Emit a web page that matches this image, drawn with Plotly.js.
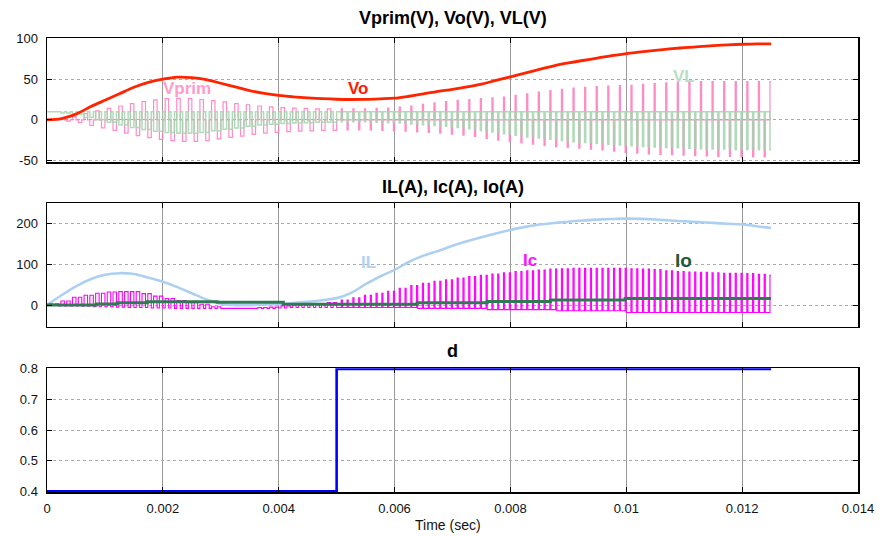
<!DOCTYPE html>
<html><head><meta charset="utf-8">
<script src="https://cdn.plot.ly/plotly-3.0.1.min.js"></script>
<style>html,body{margin:0;padding:0;background:#fff}#chart{width:888px;height:537px}</style>
</head><body><div id="chart"></div>
<script>
// ---- time grid (ms) for smooth signals ----
const timeMs = [0,0.25,0.5,0.75,1,1.25,1.5,1.75,2,2.25,2.5,2.75,3,3.25,3.5,3.75,4,4.25,4.5,4.75,5,5.25,5.5,5.75,6,6.25,6.5,6.75,7,7.25,7.5,7.75,8,8.25,8.5,8.75,9,9.25,9.5,9.75,10,10.25,10.5,10.75,11,11.25,11.5,11.75,12,12.25,12.5];
const voValues = [0,1.5,7,16,24,32,40,46,50,52.5,52,49.5,45,40.5,36,32.5,30,28.3,27,26,25.3,25,25.2,25.8,26.6,29,32,35,37.5,40.5,44,48.5,52.9,57.5,62,66.5,70,73,76,79,81.6,83.5,85.5,87.3,88.8,90,91.2,92.2,93,93.5,93.5];
const ilValues = [0,24,46,63,74,78,76,67,57,44,29,14,3,0,0,1,2,5,8,12,17,30,51,70,86,106,121,132,145,156,166,175,184,191,197,201,204,207,209,210.5,211.5,211,209.5,207,205,203,201,199,197,193,188.5];

// ---- Io (stepwise) ----
const ioStepTimesMs = [0,0.85,1.21,1.73,2.94,4.08,6.39,7.6,8.69,9.98,12.5];
const ioStepValues  = [0,2.5,5.5,8,7,2,6,8.5,12.5,16,16];

// ---- duty cycle d ----
const dutyTimesMs = [0,5,12.5];
const dutyValues  = [0.4,0.8,0.8];

// ---- switching ----
const switchPeriodMs = 0.1;
const endTimeMs = 12.5;

// envelopes, one value per 0.2 ms (two switching cycles)
const vprimPos = [0.5,1.5,4,7.5,11,14,17,20,22.5,24.5,
  26,26.5,26,25,23.5,22,20,18.5,17,16,
  15,14.5,14,13.5,13.5,13.5,13.5,13.5,14,14.5,
  15.5,17,19,21,22.5,24,25,26,27,28,
  30,32,34,36,37.5,39,40,41,41.5,42,
  42.5,43.5,44.5,45.5,46.5,46.5,47,47,47,47,
  47,47,47];
const vprimNeg = [-0.5,-1.5,-3.5,-7,-10,-13,-16.5,-19.5,-22,-24,
  -25.5,-26.5,-26.5,-25.5,-23.5,-21.5,-20,-18,-16.5,-15.5,
  -14.5,-14,-13.5,-13,-13,-12.5,-12.5,-12.5,-13,-13.5,
  -14,-15,-15.5,-16.5,-17.5,-19,-20.5,-23,-25,-27,
  -28.5,-30,-31.5,-33,-34,-35,-36,-37,-38.5,-40,
  -41,-42,-42.5,-43,-43.5,-44,-44.5,-45,-45,-45.5,
  -45.5,-45.5,-45.5];
const vlHigh = [10,10,10,10,10,10,10,10,10,10,
  10,10,10,10,10,10,10,10,10,10,
  10,10,10,10,10,10,10,10,10,10,
  10,10,10,10,10,10,10,10,10,10,
  10,10,10,10,10,10,10,10,10,10,
  10,10,10,10,10,10,10,10,10,10,
  10,10,10];
const vlLow = [9.5,8.5,6.5,3,0,-3,-6.5,-9.5,-12,-14,
  -15.5,-16.5,-16.5,-15.5,-13.5,-11.5,-10,-8,-6.5,-5.5,
  -4.5,-4,-3.5,-3,-3,-2.5,-2.5,-2.5,-3,-3.5,
  -4,-5,-6,-7,-8,-9.5,-11,-13,-15,-17,
  -19,-21,-22.5,-24,-25.5,-27,-28,-29,-30,-31,
  -32,-33,-33.5,-34,-34.5,-35,-35.5,-36,-36,-36.5,
  -36.5,-37,-37];
const icHigh = [3,10,19,24,29,32,33,33,28,22,
  16,11,6,2,-4,-7,-7,-7,-6,-5,
  -2,0,1,3,6,12,18,24,29,34,
  41,48,53,58,62,66,70,73,76,79,
  82,84,86,88,89,90,90,90,90,90,
  89,88,87,84,82,81,80,79,78,78,
  77,75,73];
const icLow = [-1,-2,-2,-3,-4,-4,-5,-6,-6,-7,
  -7,-8,-8,-8,-8,-8,-8,-8,-8,-8,
  -7,-6,-6,-6,-6,-6,-6,-6,-6,-6,
  -6,-6,-8,-8,-8,-8,-8,-8,-11,-11,
  -11,-11,-11,-11,-14,-14,-14,-14,-14,-14,
  -18,-18,-18,-18,-18,-18,-18,-18,-18,-18,
  -18,-18,-18];

// ---- build switched waveforms from the envelopes ----
function dutyAt(tms){ let d = dutyValues[0]; for (let i=0;i<dutyTimesMs.length;i++){ if (tms >= dutyTimesMs[i]-1e-9) d = dutyValues[i]; } return d; }
const nCycles = Math.round(endTimeMs / switchPeriodMs);
const vp = {x:[],y:[]}, vl = {x:[],y:[]}, ic = {x:[],y:[]};
function seg(o, a, b, v){ o.x.push(a/1000, b/1000); o.y.push(v, v); }
for (let j=0;j<nCycles;j++){
  const t0 = j*switchPeriodMs;
  const d = dutyAt(t0);
  const t1 = t0 + d*switchPeriodMs;
  const t2 = Math.min(t0 + switchPeriodMs, endTimeMs);
  const k = Math.min(Math.floor(j/2), vprimPos.length-1);
  const vOff = (j%2===0) ? vprimPos[k] : vprimNeg[k];
  seg(vp, t0, t1, 0); seg(vp, t1, t2, vOff);
  seg(vl, t0, t1, vlHigh[k]); seg(vl, t1, t2, vlLow[k]);
  seg(ic, t0, t1, icLow[k]); seg(ic, t1, t2, icHigh[k]);
}
const tSec = timeMs.map(v=>v/1000);

const FONT = 'Liberation Sans, Arial, Helvetica, sans-serif';
const traces = [
  {x:vp.x, y:vp.y, xaxis:'x', yaxis:'y', mode:'lines', line:{color:'#ff7fbf', width:1.2}, opacity:0.9, hoverinfo:'skip'},
  {x:vl.x, y:vl.y, xaxis:'x', yaxis:'y', mode:'lines', line:{color:'#a3d4ae', width:1.5}, opacity:0.85, hoverinfo:'skip'},
  {x:tSec, y:voValues, xaxis:'x', yaxis:'y', mode:'lines', line:{color:'#ff2400', width:2.8, shape:'spline'}},
  {x:tSec, y:ilValues, xaxis:'x2', yaxis:'y2', mode:'lines', line:{color:'#add0f2', width:2.6, shape:'spline'}},
  {x:ic.x, y:ic.y, xaxis:'x2', yaxis:'y2', mode:'lines', line:{color:'#ff00ff', width:1.1}, hoverinfo:'skip'},
  {x:ioStepTimesMs.map(v=>v/1000), y:ioStepValues, xaxis:'x2', yaxis:'y2', mode:'lines', line:{color:'#2f7a52', width:3, shape:'hv'}},
  {x:dutyTimesMs.map(v=>v/1000), y:dutyValues, xaxis:'x3', yaxis:'y3', mode:'lines', line:{color:'#0000ff', width:2.6, shape:'hv'}}
];

const xTicks = [0,0.002,0.004,0.006,0.008,0.01,0.012,0.014];
const xTickText = ['0','0.002','0.004','0.006','0.008','0.01','0.012','0.014'];
const tickFont = {family:FONT, size:13, color:'#111'};
function xa(anchor, labels){
  return {anchor:anchor, domain:[0,1], range:[0,0.014], tickvals:xTicks, ticktext:xTickText,
    showticklabels:labels, ticks:'inside', ticklen:5, tickcolor:'#000', showline:true, linecolor:'#000',
    linewidth:1.5, mirror:'ticks', showgrid:true, gridcolor:'#999', gridwidth:1, griddash:'solid',
    zeroline:false, tickfont:tickFont, ticklabelstandoff:4};
}
function ya(anchor, dom, rng, vals, txt){
  return {anchor:anchor, domain:dom, range:rng, tickvals:vals, ticktext:txt, ticks:'inside', ticklen:5,
    tickcolor:'#000', showline:true, linecolor:'#000', linewidth:1.5, mirror:'ticks', showgrid:true,
    gridcolor:'#aaa', gridwidth:1, griddash:'dot', zeroline:false, tickfont:tickFont, ticklabelstandoff:5};
}
const titleFont = {family:FONT, size:18, color:'#000'};
function lab(text, x, y, xr, yr, color, size){
  return {text:'<b>'+text+'</b>', x:x, y:y, xref:xr, yref:yr, showarrow:false, font:{family:FONT, size:size||17, color:color}};
}
const layout = {
  width:888, height:537, margin:{l:47, r:30, t:38, b:45},
  paper_bgcolor:'#fff', plot_bgcolor:'#fff', showlegend:false,
  xaxis: xa('y', false), xaxis2: xa('y2', false), xaxis3: xa('y3', true),
  yaxis: ya('x', [0.7262,1], [-52.3,100.7], [-50,0,50,100], ['-50','0','50','100']),
  yaxis2: ya('x2', [0.364,0.6359], [-53,249], [0,100,200], ['0','100','200']),
  yaxis3: ya('x3', [0,0.2725], [0.398,0.802], [0.4,0.5,0.6,0.7,0.8], ['0.4','0.5','0.6','0.7','0.8']),
  annotations: [
    {text:'<b>Vprim(V), Vo(V), VL(V)</b>', x:0.5, y:1.044, xref:'paper', yref:'paper', showarrow:false, font:titleFont, yanchor:'middle'},
    {text:'<b>IL(A), Ic(A), Io(A)</b>', x:0.5, y:0.672, xref:'paper', yref:'paper', showarrow:false, font:titleFont, yanchor:'middle'},
    {text:'<b>d</b>', x:0.5, y:0.3106, xref:'paper', yref:'paper', showarrow:false, font:titleFont, yanchor:'middle'},
    {text:'Time (sec)', x:0.495, y:-0.073, xref:'paper', yref:'paper', showarrow:false, font:{family:FONT, size:14, color:'#111'}, yanchor:'middle'},
    lab('Vprim', 0.00242, 39, 'x', 'y', '#ff9ccc'),
    lab('Vo', 0.00537, 39, 'x', 'y', '#ff1a00'),
    lab('VL', 0.0110, 53.7, 'x', 'y', '#b8dec4'),
    lab('IL', 0.00555, 105, 'x2', 'y2', '#b3d1f2'),
    lab('Ic', 0.00834, 110, 'x2', 'y2', '#ff10ff'),
    lab('Io', 0.01098, 108, 'x2', 'y2', '#1f5a3c', 19)
  ]
};
Plotly.newPlot('chart', traces, layout, {displayModeBar:false, staticPlot:true});
</script></body></html>
